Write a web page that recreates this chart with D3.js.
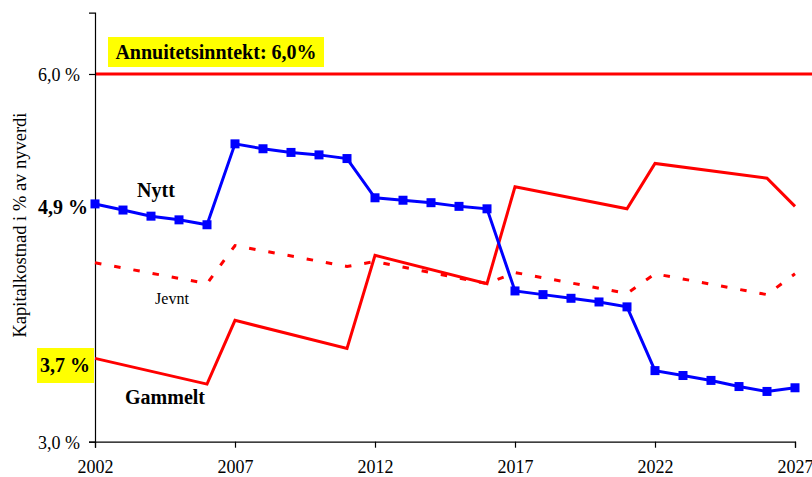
<!DOCTYPE html>
<html><head><meta charset="utf-8">
<script src="https://cdn.jsdelivr.net/npm/d3@7"></script>
<style>body{margin:0;background:#fff}svg{display:block}text{font-family:"Liberation Serif","Times New Roman",serif}</style>
</head><body><svg id="c" width="812" height="477"></svg>
<script>
const years = [2002,2003,2004,2005,2006,2007,2008,2009,2010,2011,2012,2013,2014,2015,2016,2017,2018,2019,2020,2021,2022,2023,2024,2025,2026,2027];
const nytt = [4.94,4.89,4.84,4.81,4.77,5.43,5.39,5.36,5.34,5.31,4.99,4.97,4.95,4.92,4.90,4.23,4.20,4.17,4.14,4.10,3.58,3.54,3.50,3.45,3.41,3.44];
const gammeltYears = [2002,2006,2007,2011,2012,2016,2017,2021,2022,2026,2027];
const gammelt = [3.68,3.47,3.99,3.76,4.52,4.29,5.08,4.90,5.27,5.15,4.92];
const jevntYears = [2002,2006,2007,2011,2012,2016,2017,2021,2022,2026,2027];
const jevnt = [4.46,4.29,4.60,4.43,4.47,4.29,4.38,4.21,4.37,4.20,4.37];
const annuitet = 6.0;
const xTicks = [2002,2007,2012,2017,2022,2027];
const yTicks = [3.0,6.0];
const yTickLabels = ["3,0 %","6,0 %"];

const svg = d3.select("#c");
const x = d3.scaleLinear().domain([2002,2027]).range([95,795]);
const y = d3.scaleLinear().domain([3,6.5]).range([441.7,12.7]);

// annuity line
svg.append("line").attr("x1",x(2002)).attr("x2",812).attr("y1",y(annuitet)).attr("y2",y(annuitet))
  .attr("stroke","#ff0000").attr("stroke-width",3);

// axes
const yAxis = svg.append("g").attr("transform",`translate(${x(2002)},0)`)
  .call(d3.axisLeft(y).tickValues(yTicks).tickSize(6).tickFormat((d,i)=>yTickLabels[i]));
const xAxis = svg.append("g").attr("transform",`translate(0,${y(3)})`)
  .call(d3.axisBottom(x).tickValues(xTicks).tickSize(6).tickFormat(d3.format("d")));
[yAxis,xAxis].forEach(g=>{
  g.select(".domain").attr("stroke","#000").attr("stroke-width",1.2);
  g.selectAll(".tick line").attr("stroke","#000").attr("stroke-width",1.2);
  g.selectAll("text").attr("fill","#000").style("font-size","18px").style("font-family","Liberation Serif");
});
yAxis.selectAll("text").attr("x",-15).attr("dy","0.35em");
xAxis.selectAll("text").attr("dy","1.25em");

const lineG = d3.line().x(d=>x(d[0])).y(d=>y(d[1]));
// Jevnt dashed
svg.append("path").datum(jevntYears.map((yr,i)=>[yr,jevnt[i]])).attr("d",lineG)
  .attr("fill","none").attr("stroke","#ff0000").attr("stroke-width",3).attr("stroke-dasharray","6.5,13");
// Gammelt
svg.append("path").datum(gammeltYears.map((yr,i)=>[yr,gammelt[i]])).attr("d",lineG)
  .attr("fill","none").attr("stroke","#ff0000").attr("stroke-width",3);
// Nytt
const nd = years.map((yr,i)=>[yr,nytt[i]]);
svg.append("path").datum(nd).attr("d",lineG)
  .attr("fill","none").attr("stroke","#0000ff").attr("stroke-width",3);
svg.selectAll("rect.m").data(nd).enter().append("rect").attr("class","m")
  .attr("x",d=>x(d[0])-4.5).attr("y",d=>y(d[1])-4.5).attr("width",9).attr("height",9).attr("fill","#0000ff");

// y axis title
svg.append("text").attr("transform","translate(26,225) rotate(-90)").attr("text-anchor","middle")
  .style("font-size","18.5px").text("Kapitalkostnad i % av nyverdi");

// annotation box
svg.append("rect").attr("x",108).attr("y",37).attr("width",216).attr("height",30).attr("fill","#ffff00");
svg.append("text").attr("x",216).attr("y",59).attr("text-anchor","middle").attr("font-weight","bold")
  .style("font-size","20px").text("Annuitetsinntekt: 6,0%");

// 3,7 box
svg.append("rect").attr("x",37).attr("y",348).attr("width",57).attr("height",35).attr("fill","#ffff00");
svg.append("text").attr("x",90).attr("y",372).attr("text-anchor","end").attr("font-weight","bold")
  .style("font-size","20px").text("3,7 %");
svg.append("text").attr("x",88).attr("y",214).attr("text-anchor","end").attr("font-weight","bold")
  .style("font-size","20px").text("4,9 %");

svg.append("text").attr("x",156).attr("y",197).attr("text-anchor","middle").attr("font-weight","bold")
  .style("font-size","20px").text("Nytt");
svg.append("text").attr("x",172).attr("y",304).attr("text-anchor","middle")
  .style("font-size","16px").text("Jevnt");
svg.append("text").attr("x",165).attr("y",404).attr("text-anchor","middle").attr("font-weight","bold")
  .style("font-size","20px").text("Gammelt");
</script></body></html>
